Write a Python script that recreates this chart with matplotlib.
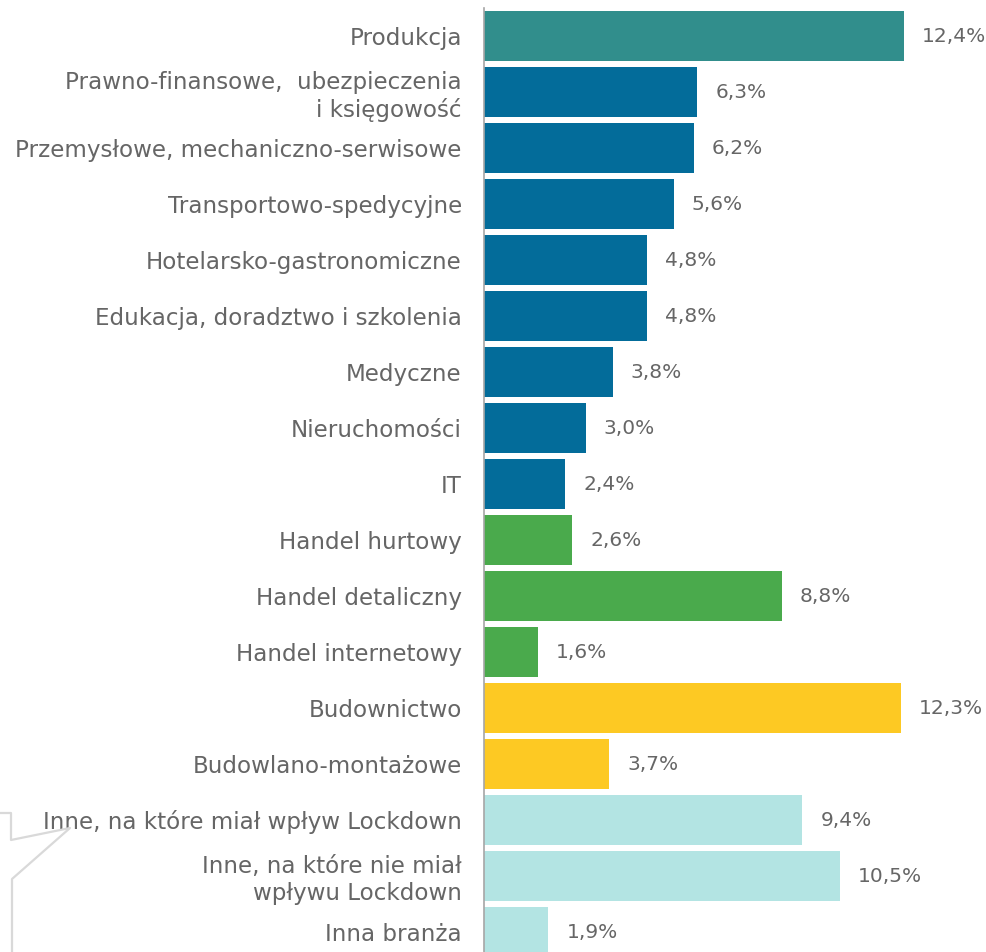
import matplotlib
import numpy as np

matplotlib.use("Agg")
import matplotlib.pyplot as plt  # noqa: E402
from matplotlib.lines import Line2D  # noqa: E402

plt.rcParams["font.family"] = ["DejaVu Sans"]

categories = [
    "Produkcja",
    "Prawno-finansowe,  ubezpieczenia\ni księgowość",
    "Przemysłowe, mechaniczno-serwisowe",
    "Transportowo-spedycyjne",
    "Hotelarsko-gastronomiczne",
    "Edukacja, doradztwo i szkolenia",
    "Medyczne",
    "Nieruchomości",
    "IT",
    "Handel hurtowy",
    "Handel detaliczny",
    "Handel internetowy",
    "Budownictwo",
    "Budowlano-montażowe",
    "Inne, na które miał wpływ Lockdown",
    "Inne, na które nie miał\nwpływu Lockdown",
    "Inna branża",
]
values = [12.4, 6.3, 6.2, 5.6, 4.8, 4.8, 3.8, 3.0, 2.4, 2.6, 8.8, 1.6, 12.3, 3.7, 9.4, 10.5, 1.9]
groups = ["prod"] + ["uslugi"] * 8 + ["handel"] * 3 + ["bud"] * 2 + ["inne"] * 3

colors = {"prod": "#318E8C", "uslugi": "#036C9A", "handel": "#4AAA4C",
          "bud": "#FDC923", "inne": "#B3E4E3"}
text_c = "#666666"

W, H = 986, 952
fig = plt.figure(figsize=(W / 100, H / 100), dpi=100)
ax = fig.add_axes([484 / W, 0, 1 - 484 / W, 1])

y = np.arange(len(categories))
ax.barh(y, values, height=0.91, color=[colors[g] for g in groups])
for yi, v in zip(y, values):
    ax.annotate(f"{v:.1f}%".replace(".", ","), (v, yi), textcoords="offset points",
                xytext=(13, 0), va="center", ha="left", fontsize=14.5, color=text_c)

ax.set_xlim(0, 502 / 33.87)
ax.set_ylim((H - 36) / 56, -36 / 56)
ax.set_yticks(y)
ax.set_yticklabels(categories, fontsize=16.6, color=text_c, ha="right",
                   multialignment="right", linespacing=1.2)
ax.tick_params(axis="y", length=0, pad=16)
ax.set_xticks([])
for s in ["top", "right", "bottom"]:
    ax.spines[s].set_visible(False)
ax.spines["left"].set_color("#A6A6A6")
ax.spines["left"].set_linewidth(1.2)
ax.spines["left"].set_bounds(-0.5, 16.6)

# decorative gray outline in bottom-left corner
px = np.array([0, 11, 11, 70, 12, 12])
py = np.array([813, 813, 840, 828, 879, 952])
fig.add_artist(Line2D(px / W, 1 - py / H, transform=fig.transFigure,
                      color="#D9D9D9", lw=1.6))

fig.savefig("out.png", dpi=100)
